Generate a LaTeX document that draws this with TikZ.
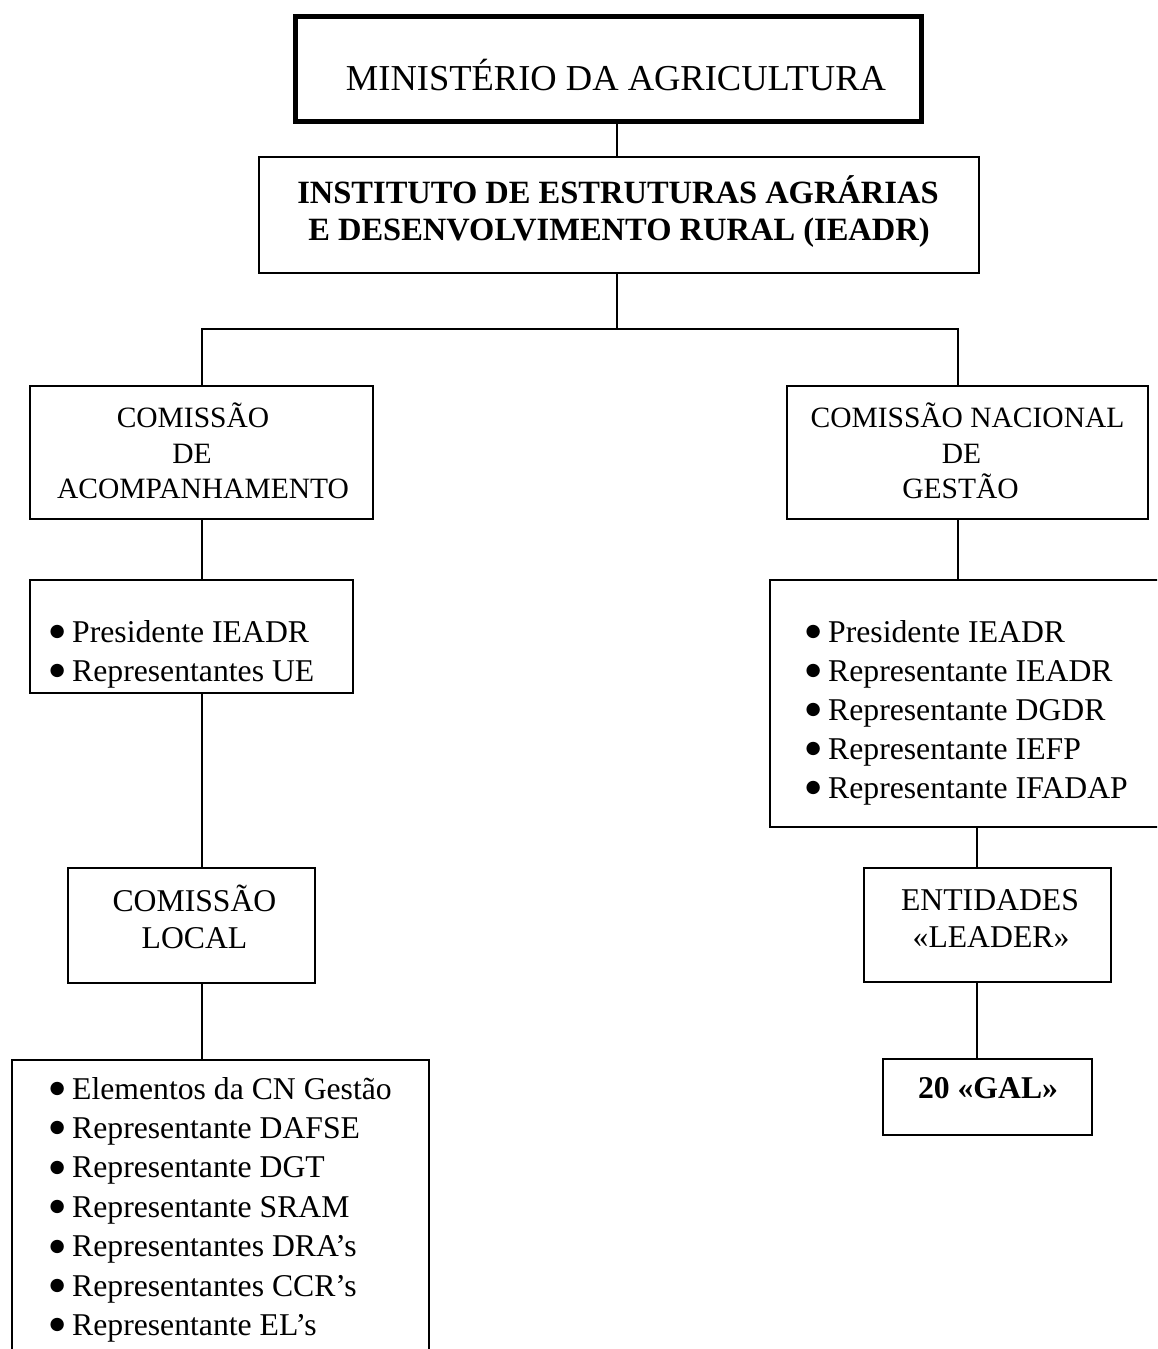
\documentclass[tikz,border=0pt]{standalone}
\usepackage{fontspec}
\setmainfont{Liberation Serif}
\newfontfamily\symfont{DejaVu Sans}
\newcommand\bulmark{\makebox[20pt][l]{\hspace*{-2.5pt}\raisebox{5.5pt}{\symfont\fontsize{17.5}{18}\selectfont ●}}}
\tikzset{
  box/.style={draw, rectangle, line width=2.5pt, inner sep=0pt},
  thickbox/.style={draw, rectangle, line width=5pt, inner sep=0pt},
  link/.style={line width=2.5pt},
  ttl/.style={anchor=base, inner sep=0pt, font=\fontsize{36.5}{42}\selectfont},
  bld/.style={anchor=base, inner sep=0pt, font=\fontsize{32.5}{38}\selectfont\bfseries},
  head/.style={anchor=base, inner sep=0pt, font=\fontsize{29.5}{35}\selectfont},
  mid/.style={anchor=base, inner sep=0pt, font=\fontsize{31.7}{38}\selectfont},
  item/.style={anchor=base west, inner sep=0pt, font=\fontsize{31.7}{38}\selectfont},
}
\begin{document}
\begin{tikzpicture}[x=1pt,y=-1pt]
\useasboundingbox (0,0) rectangle (1157,1349);
\clip (0,0) rectangle (1157,1349);

% boxes
\node[thickbox, minimum width=626pt, minimum height=105pt] (mt) at (608,68.5) {};
\node[box, minimum width=720pt, minimum height=116pt] (ie) at (619,215) {};
\node[box, minimum width=343pt, minimum height=133pt] (cda) at (201.5,452.5) {};
\node[box, minimum width=361pt, minimum height=133pt] (cng) at (967.5,452.5) {};
\node[box, minimum width=323pt, minimum height=113pt] (bl) at (191.5,636.5) {};
\node[box, minimum width=400pt, minimum height=247pt] (br) at (970,703.5) {};
\node[box, minimum width=247pt, minimum height=115pt] (cl) at (191.5,925.5) {};
\node[box, minimum width=417pt, minimum height=310pt] (ll) at (220.5,1215) {};
\node[box, minimum width=247pt, minimum height=114pt] (ent) at (987.5,925) {};
\node[box, minimum width=209pt, minimum height=76pt] (gal) at (987.5,1097) {};

% bus coordinates
\coordinate (busM) at (617,329);
\coordinate (busL) at (202,329);
\coordinate (busR) at (958,329);
\coordinate (colR) at (977,900);

% connectors
\draw[link] (mt.south -| busM) -- (ie.north -| busM);
\draw[link] (ie.south -| busM) -- (busM);
\draw[link, line join=miter] (cda.north -| busL) -- (busL) -- (busR) -- (cng.north -| busR);
\draw[link] (cda.south -| busL) -- (bl.north -| busL);
\draw[link] (bl.south -| busL) -- (cl.north -| busL);
\draw[link] (cl.south -| busL) -- (ll.north -| busL);
\draw[link] (cng.south -| busR) -- (br.north -| busR);
\draw[link] (br.south -| colR) -- (ent.north -| colR);
\draw[link] (ent.south -| colR) -- (gal.north -| colR);

% texts
\node[ttl] (mtT) at (616,90) {MINISTÉRIO DA AGRICULTURA};
\node[bld] (ieT1) at (618,203) {INSTITUTO DE ESTRUTURAS AGRÁRIAS};
\node[bld] (ieT2) at (619,240) {E DESENVOLVIMENTO RURAL (IEADR)};

\node[head] (cdaT1) at (193,427) {COMISSÃO};
\node[head] (cdaT2) at (192,463) {DE};
\node[head] (cdaT3) at (203,498) {ACOMPANHAMENTO};

\node[head] (cngT1) at (967.5,427) {COMISSÃO NACIONAL};
\node[head] (cngT2) at (961.5,463) {DE};
\node[head] (cngT3) at (960.5,498) {GESTÃO};

\node[item] (blT1) at (52,642) {\bulmark Presidente IEADR};
\node[item] (blT2) at (52,681) {\bulmark Representantes UE};

\node[item] (brT1) at (808,642) {\bulmark Presidente IEADR};
\node[item] (brT2) at (808,681) {\bulmark Representante IEADR};
\node[item] (brT3) at (808,720) {\bulmark Representante DGDR};
\node[item] (brT4) at (808,759) {\bulmark Representante IEFP};
\node[item] (brT5) at (808,798) {\bulmark Representante IFADAP};

\node[mid] (clT1) at (194.5,911) {COMISSÃO};
\node[mid] (clT2) at (194.5,948) {LOCAL};

\node[mid] (entT1) at (990,910) {ENTIDADES};
\node[mid] (entT2) at (991,947) {«LEADER»};

\node[bld, font=\fontsize{31.7}{38}\selectfont\bfseries] (galT) at (988,1098) {20 «GAL»};

\node[item] (llT1) at (52,1099) {\bulmark Elementos da CN Gestão};
\node[item] (llT2) at (52,1138.4) {\bulmark Representante DAFSE};
\node[item] (llT3) at (52,1177.8) {\bulmark Representante DGT};
\node[item] (llT4) at (52,1217.2) {\bulmark Representante SRAM};
\node[item] (llT5) at (52,1256.6) {\bulmark Representantes DRA’s};
\node[item] (llT6) at (52,1296) {\bulmark Representantes CCR’s};
\node[item] (llT7) at (52,1335.4) {\bulmark Representante EL’s};
\end{tikzpicture}
\end{document}
